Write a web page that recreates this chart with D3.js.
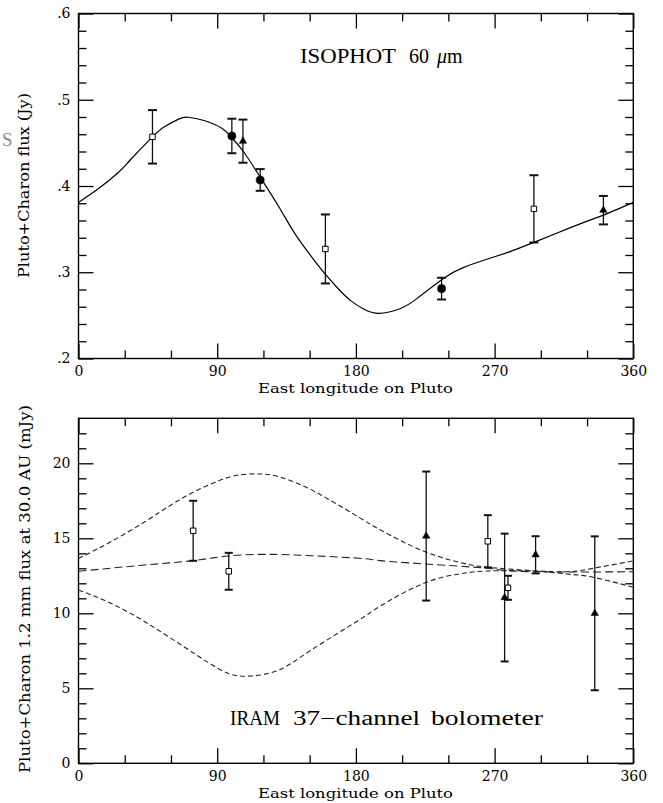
<!DOCTYPE html>
<html><head><meta charset="utf-8">
<script src="https://cdn.jsdelivr.net/npm/d3@7"></script>
<style>body{margin:0;background:#fff} svg{display:block}</style>
</head><body>
<svg id="c" width="663" height="803"></svg>
<script>
// ---------- axis ticks ----------
const lonMajor = [0, 90, 180, 270, 360];
const lonLabels = ["0", "90", "180", "270", "360"];
const lonMinor = [30, 60, 120, 150, 210, 240, 300, 330];
const isoMajor = [0.2, 0.3, 0.4, 0.5, 0.6];
const isoLabels = [".2", ".3", ".4", ".5", ".6"];
const isoMinor = [0.22,0.24,0.26,0.28,0.32,0.34,0.36,0.38,0.42,0.44,0.46,0.48,0.52,0.54,0.56,0.58];
const iramMajor = [0, 5, 10, 15, 20];
const iramLabels = ["0", "5", "10", "15", "20"];
const iramMinor = [1,2,3,4,6,7,8,9,11,12,13,14,16,17,18,19,21,22];

// ---------- ISOPHOT 60 um data ----------
const isoSquareLon  = [48, 160.2, 295.5];
const isoSquareFlux = [0.457, 0.327, 0.3735];
const isoSquareErr  = [0.031, 0.040, 0.039];
const isoCircleLon  = [99.5, 117.9, 235.6];
const isoCircleFlux = [0.458, 0.407, 0.281];
const isoCircleErr  = [0.020, 0.0126, 0.0126];
const isoTriLon     = [106.7, 340.6];
const isoTriFlux    = [0.452, 0.372];
const isoTriErr     = [0.025, 0.0165];
// model lightcurve
const isoModelLon  = [0,13,26,34,48,56,65,71,82,93,99,107,118,130,140,151,160,169,177,185,195,209,220,237,250,267,280,295,311,328,341,360];
const isoModelFlux = [0.381,0.397,0.416,0.431,0.457,0.469,0.4775,0.4797,0.4757,0.467,0.457,0.440,0.410,0.376,0.346,0.3185,0.298,0.280,0.2665,0.2575,0.2524,0.258,0.270,0.293,0.3057,0.3162,0.3239,0.3343,0.3458,0.3578,0.3665,0.381];

// ---------- IRAM 1.2 mm data ----------
const iramSquareLon  = [74.4, 97.5, 265.6, 278.7];
const iramSquareFlux = [15.5, 12.8, 14.8, 11.7];
const iramSquareErr  = [2.0, 1.23, 1.74, 0.8];
const iramTriLon     = [225.6, 276.5, 296.6, 335.0];
const iramTriFlux    = [15.15, 11.05, 13.9, 10.0];
const iramTriErr     = [4.3, 4.26, 1.24, 5.13];
const iramUpperLon  = [0,21,43,60,75,91,104,117,130,147,164,182,196,225,250,265,295,317,334,357,360];
const iramUpperFlux = [13.65,14.77,16.1,17.22,18.1,18.84,19.22,19.29,19.11,18.44,17.5,16.4,15.55,14.1,13.33,13.07,12.84,12.77,13.0,13.44,13.5];
const iramMidLon  = [0,43,74,97,123,151,182,196,225,265,295,357,360];
const iramMidFlux = [12.8,13.22,13.51,13.82,13.93,13.84,13.67,13.51,13.29,13.0,12.77,12.77,12.78];
const iramLowerLon  = [0,21,43,65,86,99,112,130,151,182,196,225,250,265,295,317,334,357,360];
const iramLowerFlux = [11.55,10.67,9.44,8.0,6.6,5.93,5.82,6.22,7.55,9.55,10.49,12.04,12.67,12.82,12.82,12.62,12.4,11.82,11.75];

// ---------- drawing ----------
const svg = d3.select("#c");
const x = d3.scaleLinear().domain([0, 360]).range([78.5, 633.3]);
const yTop = d3.scaleLinear().domain([0.2, 0.6]).range([358.5, 13.5]);
const yBot = d3.scaleLinear().domain([0, 23]).range([763.3, 418.3]);
const tickFont = "DejaVu Serif";
const defs = svg.append("defs");

function styleAxis(g, labelled) {
  g.select(".domain").remove();
  g.selectAll(".tick line").attr("stroke", "#000").attr("stroke-width", 1.3);
  if (labelled) {
    g.selectAll(".tick text").attr("font-family", tickFont).attr("font-size", 14).attr("fill", "#000");
  } else {
    g.selectAll(".tick text").remove();
  }
}

function panel(y, yMajor, yLabels, yMinor, padX, clipId) {
  const [xa, xb] = x.range();
  const [yb, yt] = y.range();
  defs.append("clipPath").attr("id", clipId).append("rect")
    .attr("x", xa).attr("y", yt).attr("width", xb - xa).attr("height", yb - yt);
  const g = svg.append("g");
  g.append("g").attr("transform", `translate(0,${yb})`)
    .call(d3.axisBottom(x).tickValues(lonMajor).tickSizeInner(-15).tickSizeOuter(0).tickPadding(padX).tickFormat((d, i) => lonLabels[i]))
    .call(a => styleAxis(a, true));
  g.append("g").attr("transform", `translate(0,${yb})`)
    .call(d3.axisBottom(x).tickValues(lonMinor).tickSizeInner(-8).tickSizeOuter(0))
    .call(a => styleAxis(a, false));
  g.append("g").attr("transform", `translate(0,${yt})`)
    .call(d3.axisTop(x).tickValues(lonMajor).tickSizeInner(-15).tickSizeOuter(0))
    .call(a => styleAxis(a, false));
  g.append("g").attr("transform", `translate(0,${yt})`)
    .call(d3.axisTop(x).tickValues(lonMinor).tickSizeInner(-8).tickSizeOuter(0))
    .call(a => styleAxis(a, false));
  g.append("g").attr("transform", `translate(${xa},0)`)
    .call(d3.axisLeft(y).tickValues(yMajor).tickSizeInner(-15).tickSizeOuter(0).tickPadding(8).tickFormat((d, i) => yLabels[i]))
    .call(a => styleAxis(a, true));
  g.append("g").attr("transform", `translate(${xa},0)`)
    .call(d3.axisLeft(y).tickValues(yMinor).tickSizeInner(-8).tickSizeOuter(0))
    .call(a => styleAxis(a, false));
  g.append("g").attr("transform", `translate(${xb},0)`)
    .call(d3.axisRight(y).tickValues(yMajor).tickSizeInner(-15).tickSizeOuter(0))
    .call(a => styleAxis(a, false));
  g.append("g").attr("transform", `translate(${xb},0)`)
    .call(d3.axisRight(y).tickValues(yMinor).tickSizeInner(-8).tickSizeOuter(0))
    .call(a => styleAxis(a, false));
  g.append("rect").attr("x", xa).attr("y", yt).attr("width", xb - xa).attr("height", yb - yt)
    .attr("fill", "none").attr("stroke", "#000").attr("stroke-width", 1.4);
  return g;
}

function errorBars(g, y, lons, vals, errs, cap) {
  lons.forEach((lon, i) => {
    const cx = x(lon), y1 = y(vals[i] - errs[i]), y2 = y(vals[i] + errs[i]);
    g.append("line").attr("x1", cx).attr("x2", cx).attr("y1", y1).attr("y2", y2)
      .attr("stroke", "#111").attr("stroke-width", 1.3);
    [y1, y2].forEach(yy => g.append("line").attr("x1", cx - cap / 2).attr("x2", cx + cap / 2)
      .attr("y1", yy).attr("y2", yy).attr("stroke", "#111").attr("stroke-width", 2));
  });
}

function markers(g, y, lons, vals, type, size, filled) {
  const sym = d3.symbol().type(type).size(size);
  lons.forEach((lon, i) => {
    g.append("path").attr("d", sym())
      .attr("transform", `translate(${x(lon)},${y(vals[i])})`)
      .attr("fill", filled ? "#000" : "#fff")
      .attr("stroke", "#000").attr("stroke-width", filled ? 0.5 : 1);
  });
}

// ===== top panel =====
const gT = panel(yTop, isoMajor, isoLabels, isoMinor, 8, "clipTop");
const lineT = d3.line().x(d => x(d[0])).y(d => yTop(d[1])).curve(d3.curveNatural);
gT.append("path").attr("d", lineT(isoModelLon.map((l, i) => [l, isoModelFlux[i]])))
  .attr("clip-path", "url(#clipTop)")
  .attr("fill", "none").attr("stroke", "#000").attr("stroke-width", 1.2);
errorBars(gT, yTop, isoSquareLon, isoSquareFlux, isoSquareErr, 9);
errorBars(gT, yTop, isoCircleLon, isoCircleFlux, isoCircleErr, 9);
errorBars(gT, yTop, isoTriLon, isoTriFlux, isoTriErr, 9);
markers(gT, yTop, isoSquareLon, isoSquareFlux, d3.symbolSquare, 30, false);
markers(gT, yTop, isoCircleLon, isoCircleFlux, d3.symbolCircle, 52, true);
markers(gT, yTop, isoTriLon, isoTriFlux, d3.symbolTriangle, 24, true);

const tT = gT.append("text").attr("y", 63).attr("font-family", "Liberation Serif").attr("font-size", 20).attr("fill", "#000");
tT.append("tspan").attr("x", 300).attr("textLength", 96).attr("lengthAdjust", "spacingAndGlyphs").text("ISOPHOT");
tT.append("tspan").attr("x", 409).attr("textLength", 20).attr("lengthAdjust", "spacingAndGlyphs").text("60");
tT.append("tspan").attr("x", 437).attr("font-style", "italic").text("μ");
tT.append("tspan").text("m");

gT.append("text").attr("x", 355.5).attr("y", 393).attr("text-anchor", "middle")
  .attr("font-family", tickFont).attr("font-size", 13.5).attr("textLength", 195).attr("lengthAdjust", "spacingAndGlyphs")
  .text("East longitude on Pluto");
gT.append("text").attr("transform", "translate(29,185.5) rotate(-90)").attr("text-anchor", "middle")
  .attr("font-family", tickFont).attr("font-size", 14).attr("textLength", 185).attr("lengthAdjust", "spacingAndGlyphs")
  .text("Pluto+Charon flux (Jy)");
gT.append("text").attr("x", 2).attr("y", 146).attr("font-family", "Liberation Serif").attr("font-size", 19)
  .attr("fill", "#8a8a8a").text("S");

// ===== bottom panel =====
const gB = panel(yBot, iramMajor, iramLabels, iramMinor, 8, "clipBot");
const lineB = d3.line().x(d => x(d[0])).y(d => yBot(d[1])).curve(d3.curveNatural);
[[iramUpperLon, iramUpperFlux, "5,3"], [iramMidLon, iramMidFlux, "8,4"], [iramLowerLon, iramLowerFlux, "5,3"]]
  .forEach(([lo, fl, dash]) => {
    gB.append("path").attr("d", lineB(lo.map((l, i) => [l, fl[i]])))
      .attr("clip-path", "url(#clipBot)")
      .attr("fill", "none").attr("stroke", "#222").attr("stroke-width", 1.1).attr("stroke-dasharray", dash);
  });
errorBars(gB, yBot, iramSquareLon, iramSquareFlux, iramSquareErr, 8);
errorBars(gB, yBot, iramTriLon, iramTriFlux, iramTriErr, 8);
markers(gB, yBot, iramSquareLon, iramSquareFlux, d3.symbolSquare, 30, false);
markers(gB, yBot, iramTriLon, iramTriFlux, d3.symbolTriangle, 24, true);

const tB = gB.append("text").attr("y", 725).attr("font-family", "Liberation Serif").attr("font-size", 20).attr("fill", "#000");
tB.append("tspan").attr("x", 230).attr("textLength", 50).attr("lengthAdjust", "spacingAndGlyphs").text("IRAM");
tB.append("tspan").attr("x", 293).attr("textLength", 127).attr("lengthAdjust", "spacingAndGlyphs").text("37−channel");
tB.append("tspan").attr("x", 431).attr("textLength", 112).attr("lengthAdjust", "spacingAndGlyphs").text("bolometer");

gB.append("text").attr("x", 355.5).attr("y", 798).attr("text-anchor", "middle")
  .attr("font-family", tickFont).attr("font-size", 13.5).attr("textLength", 195).attr("lengthAdjust", "spacingAndGlyphs")
  .text("East longitude on Pluto");
gB.append("text").attr("transform", "translate(30,589) rotate(-90)").attr("text-anchor", "middle")
  .attr("font-family", tickFont).attr("font-size", 14.5).attr("textLength", 368).attr("lengthAdjust", "spacingAndGlyphs")
  .text("Pluto+Charon 1.2 mm flux at 30.0 AU (mJy)");
</script>
</body></html>
